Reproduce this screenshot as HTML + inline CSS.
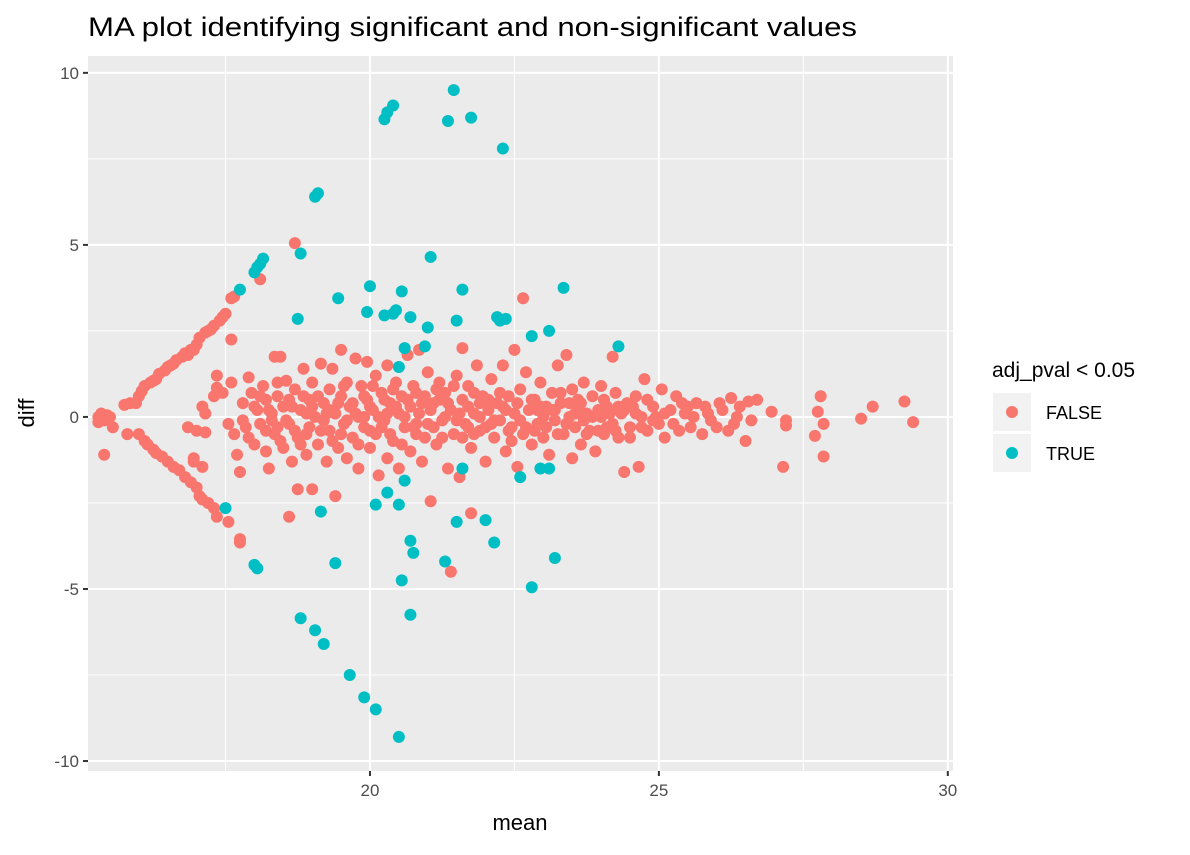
<!DOCTYPE html>
<html><head><meta charset="utf-8"><style>
body{margin:0;background:#fff;font-family:"Liberation Sans",sans-serif}
svg text{font-family:"Liberation Sans",sans-serif}
</style></head><body>
<svg id="chart" width="1190" height="850" viewBox="0 0 1190 850">
<text x="88" y="36" font-size="27" fill="#000" textLength="769" lengthAdjust="spacingAndGlyphs">MA plot identifying significant and non-significant values</text>
<rect x="88" y="56" width="865" height="715" fill="#ebebeb"/>
<g id="grid"></g>
<g id="pts"></g>
<g id="axes"></g>
<text x="520" y="830" font-size="22" text-anchor="middle">mean</text>
<text transform="translate(34,413) rotate(-90)" font-size="22" text-anchor="middle">diff</text>
<g>
<text x="992" y="377" font-size="21">adj_pval &lt; 0.05</text>
<rect x="993" y="393" width="38" height="38" fill="#f2f2f2"/>
<circle cx="1012" cy="412" r="6" fill="#F8766D"/>
<text x="1046" y="419" font-size="18">FALSE</text>
<rect x="993" y="434" width="38" height="38" fill="#f2f2f2"/>
<circle cx="1012" cy="453" r="6" fill="#00BFC4"/>
<text x="1046" y="460" font-size="18">TRUE</text>
</g>
</svg>
<script>
const xTicks=[20,25,30];
const xMinor=[17.5,22.5,27.5];
const yTicks=[-10,-5,0,5,10];
const yMinor=[-7.5,-2.5,2.5,7.5];
const trueMean=[17.5,17.75,18.0,18.05,18.1,18.15,18.0,18.05,18.75,18.8,18.8,19.05,19.1,19.05,19.2,19.15,19.4,19.45,19.65,19.9,20.0,19.95,20.1,20.1,20.25,20.3,20.4,20.25,20.3,20.4,20.45,20.5,20.55,20.6,20.55,20.5,20.6,20.7,20.7,20.75,20.7,20.95,21.0,21.05,21.3,21.35,21.45,21.5,21.5,21.6,21.75,21.6,22.0,22.15,22.2,22.25,22.3,22.35,22.6,22.8,22.8,22.95,23.1,23.1,23.2,23.35,24.3,20.5];
const trueDiff=[-2.65,3.7,4.2,4.35,4.45,4.6,-4.3,-4.4,2.85,4.75,-5.85,6.4,6.5,-6.2,-6.6,-2.75,-4.25,3.45,-7.5,-8.15,3.8,3.05,-2.55,-8.5,8.65,8.85,9.05,2.95,-2.2,3.0,3.1,-2.55,3.65,-1.85,-4.75,-9.3,2.0,2.9,-3.6,-3.95,-5.75,2.05,2.6,4.65,-4.2,8.6,9.5,-3.05,2.8,3.7,8.7,-1.5,-3.0,-3.65,2.9,2.8,7.8,2.85,-1.75,2.35,-4.95,-1.5,2.5,-1.5,-4.1,3.75,2.05,1.45];
const falsePoints=[
[15.85,0.4],[15.95,0.4],[16.05,0.75],[16.1,0.9],[16.2,1.0],[16.3,1.1],[16.35,1.25],[16.45,1.35],[16.5,1.45],[16.6,1.55],[16.65,1.65],[16.75,1.75],[16.8,1.85],[16.9,1.95],[17.0,2.1],[17.05,2.3],[17.15,2.45],[17.25,2.55],[17.3,2.65],[17.4,2.8],[17.45,2.9],[17.5,3.0],[16.95,1.95],[17.2,2.5],[16.85,1.8],[16.55,1.5],[16.25,1.05],[16.0,0.6],
[16.0,-0.5],[16.1,-0.7],[16.15,-0.8],[16.25,-0.95],[16.3,-1.05],[16.4,-1.15],[16.5,-1.3],[16.6,-1.45],[16.7,-1.55],[16.8,-1.75],[16.9,-1.9],[17.0,-2.05],[17.05,-2.3],[17.1,-2.4],[17.2,-2.5],[17.3,-2.65],[17.35,-2.9],[17.55,-3.05],[17.75,-3.55],[17.75,-3.65],[16.95,-1.3],[16.95,-1.2],[17.1,-1.45],[16.85,-0.3],[17.0,-0.4],[17.15,-0.45],
[15.3,0],[15.35,0.1],[15.4,-0.1],[15.3,-0.15],[15.45,0.05],[15.35,-0.05],[15.4,0.05],[15.5,0.0],[15.55,-0.3],[15.75,0.35],[15.8,-0.5],[15.4,-1.1],
[17.1,0.3],[17.15,0.1],[17.3,0.6],[17.35,1.2],[17.35,0.85],[17.45,0.7],[17.6,1.0],[17.65,-0.5],[17.7,-1.1],[17.75,-1.6],[17.9,1.15],[17.55,-0.2],
[18.7,5.05],[18.1,4.0],[17.6,3.45],[17.65,3.5],[17.6,2.25],[22.65,3.45],[21.4,-4.5],[21.75,-2.8],[18.6,-2.9],[27.15,-1.45],[27.85,-1.15],[28.5,-0.05],[28.7,0.3],[29.25,0.45],[29.4,-0.15],[27.8,0.6],[27.75,0.15],[27.7,-0.55],[27.85,-0.2],[27.2,-0.1],[27.2,-0.25],[26.95,0.15],[26.5,-0.7],[26.7,0.5],
[17.8,0.4],[17.85,-0.3],[17.95,0.7],[18.0,-0.8],[18.05,0.2],[18.1,-0.2],[18.15,0.9],[18.2,-1.0],[18.2,0.5],[18.25,-1.5],[18.3,0.1],[18.35,-0.5],[18.35,1.75],[18.45,1.75],[18.4,0.6],[18.5,-0.9],[18.5,0.3],[18.55,1.05],[18.6,-0.2],[18.65,-1.3],[18.7,0.8],[18.75,-2.1],[18.75,-0.6],[18.8,0.2],[18.85,1.4],[18.9,-1.1],[18.95,0.5],[18.95,-0.3],[19.0,1.0],[19.0,-2.1],[19.05,0.0],[19.1,-0.8],[19.15,1.55],[19.2,0.4],[19.25,-1.3],[19.3,0.8],[19.3,-0.4],[19.35,1.4],[19.4,0.1],[19.4,-2.3],[19.45,-0.9],[19.5,0.6],[19.5,1.95],[19.55,-0.2],[19.6,1.0],[19.6,-1.2],[19.65,0.3],[19.7,-0.6],[19.75,1.7],[19.8,0.0],[19.8,-1.5],[19.85,0.9],[19.9,-0.3],[19.95,0.5],[19.95,1.6],[20.0,-0.9],[20.05,0.2],[20.1,1.2],[20.1,-0.5],[20.15,-1.7],[20.2,0.7],[20.25,-0.1],[20.3,1.5],[20.3,-1.2],[20.35,0.4],[20.4,-0.7],[20.45,1.0],[20.5,0.1],[20.5,-1.5],[20.55,0.6],[20.6,-0.3],[20.65,1.8],[20.7,0.3],[20.7,-1.0],[20.75,0.9],[20.8,-0.5],[20.85,1.95],[20.85,0.1],[20.9,-1.3],[20.95,0.6],[21.0,-0.2],[21.0,1.3],[21.05,-2.45],[21.1,0.4],[21.15,-0.8],[21.2,1.0],[21.25,-0.1],[21.3,0.7],[21.35,-1.5],[21.4,0.2],[21.45,-0.5],[21.5,1.2],[21.55,-1.75],[21.6,0.5],[21.6,2.0],[21.65,-0.2],[21.7,0.9],[21.75,-0.9],[21.8,0.1],[21.85,1.5],[21.9,-0.4],[21.95,0.6],[22.0,-1.3],[22.05,0.2],[22.1,1.1],[22.15,-0.6],[22.2,0.4],[22.25,-0.1],[22.3,1.5],[22.35,-1.0],[22.4,0.6],[22.45,-0.3],[22.5,1.95],[22.5,0.1],[22.55,-1.45],[22.6,0.8],[22.65,-0.5],[22.7,1.3],[22.75,0.2],[22.8,-0.8],[22.85,0.5],[22.9,-0.2],[22.95,1.0],[23.0,-0.6],[23.05,0.3],[23.1,-1.1],[23.15,0.7],[23.2,-0.1],[23.25,1.5],[23.3,0.4],[23.35,-0.5],[23.4,1.8],[23.45,0.0],[23.5,-1.2],[23.5,0.8],[23.55,-0.3],[23.6,0.5],[23.65,-0.8],[23.7,1.0],[23.75,0.1],[23.8,-0.4],[23.85,0.6],[23.9,-1.0],[23.95,0.2],[24.0,0.9],[24.05,-0.5],[24.1,0.3],[24.2,1.75],[24.2,-0.2],[24.25,0.7],[24.3,-0.6],[24.35,0.1],[24.4,-1.6],[24.45,0.4],[24.5,-0.3],[24.6,0.6],[24.65,-1.45],[24.7,0.0],[24.75,1.1],[24.8,-0.4],[24.9,0.3],[25.0,-0.2],[25.05,0.8],[25.1,-0.6],[25.2,0.2],[25.3,0.6],[25.35,-0.4],[25.45,0.1],[25.55,-0.3],[25.65,0.4],[25.75,-0.5],[25.85,0.1],[26.0,-0.3],[26.1,0.2],[26.25,0.55],[26.3,-0.2],[26.4,0.3],[26.55,0.45],[26.6,-0.1],
[18.3,-0.1],[18.6,0.5],[18.9,0.1],[19.2,-0.1],[19.5,-0.5],[19.7,0.4],[20.0,0.3],[20.2,-0.3],[20.4,0.8],[20.6,0.0],[20.9,0.4],[21.1,-0.3],[21.3,0.0],[21.5,-0.1],[21.7,0.3],[21.9,0.0],[22.1,-0.2],[22.3,0.3],[22.6,-0.1],[22.9,0.2],[23.2,0.2],[23.4,-0.2],[23.7,-0.1],[24.0,0.0],[24.3,0.3],[24.6,0.1],[18.4,-0.3],[18.8,-0.8],[19.3,0.2],[19.9,0.0],[20.3,0.1],[20.8,-0.2],[21.2,0.5],[21.8,-0.5],[22.4,-0.4],[23.0,0.0],[23.6,0.2],[24.1,-0.3],[24.9,-0.1],[25.5,0.3],[25.9,-0.1],[26.2,-0.4],
[17.8,-0.1],[17.9,-0.6],[18.0,0.3],[18.1,0.6],[18.2,-0.4],[18.25,0.2],[18.4,1.0],[18.45,-0.7],[18.55,-0.1],[18.65,0.3],[18.7,-0.4],[18.85,0.6],[18.9,-0.5],[19.0,0.3],[19.1,0.6],[19.15,-0.4],[19.25,0.1],[19.35,-0.7],[19.45,0.4],[19.55,0.9],[19.6,-0.1],[19.75,0.1],[19.8,-0.8],[19.9,0.6],[20.0,-0.4],[20.05,0.9],[20.15,0.0],[20.25,0.5],[20.35,-0.5],[20.45,0.3],[20.55,-0.8],[20.65,0.5],[20.75,-0.3],[20.8,0.7],[20.95,-0.6],[21.05,0.2],[21.15,0.8],[21.25,-0.6],[21.35,0.4],[21.45,0.9],[21.55,0.1],[21.6,-0.6],[21.7,-0.3],[21.8,0.7],[21.9,0.4],[22.0,-0.3],[22.05,0.5],[22.15,-0.1],[22.25,0.7],[22.35,0.2],[22.45,-0.7],[22.55,0.4],[22.7,-0.3],[22.8,0.5],[22.85,-0.4],[22.95,0.3],[23.05,-0.3],[23.15,0.2],[23.25,-0.5],[23.3,0.7],[23.45,0.4],[23.55,0.1],[23.65,0.4],[23.75,-0.5],[23.85,0.0],[23.95,-0.4],[24.05,0.5],[24.15,0.1],[24.25,-0.4],[24.4,0.2],[24.5,-0.6],[24.55,0.3],[24.7,-0.3],[24.8,0.5],[24.95,0.0],[25.1,0.1],[25.25,-0.2],[25.4,0.4],[25.6,0.0],[25.8,0.3],[26.05,0.4],[26.35,0.0]
];
const NS="http://www.w3.org/2000/svg";
const X0=88,X1=953,Y0=56,Y1=771,xmin=15.12,xmax=30.09,ymin=-10.29,ymax=10.49;
function sx(v){return X0+(v-xmin)/(xmax-xmin)*(X1-X0);}
function sy(v){return Y1-(v-ymin)/(ymax-ymin)*(Y1-Y0);}
function mk(t,a,p){const e=document.createElementNS(NS,t);for(const k in a)e.setAttribute(k,a[k]);p.appendChild(e);return e;}
const grid=document.getElementById('grid'),axes=document.getElementById('axes'),pts=document.getElementById('pts');
xMinor.forEach(v=>{const l=mk('line',{x1:sx(v),x2:sx(v),y1:Y0,y2:Y1,stroke:'#fff','stroke-width':1},grid);

});
yMinor.forEach(v=>{const l=mk('line',{x1:X0,x2:X1,y1:sy(v),y2:sy(v),stroke:'#fff','stroke-width':1},grid);

});
xTicks.forEach(v=>{const l=mk('line',{x1:sx(v),x2:sx(v),y1:Y0,y2:Y1,stroke:'#fff','stroke-width':2},grid);


const t=mk('line',{x1:sx(v),x2:sx(v),y1:Y1,y2:Y1+5,stroke:'#333','stroke-width':2},axes);


const tx=mk('text',{x:sx(v),y:Y1+25,'font-size':17,'text-anchor':'middle',fill:'#4d4d4d'},axes);tx.textContent=v;

});
yTicks.forEach(v=>{const l=mk('line',{x1:X0,x2:X1,y1:sy(v),y2:sy(v),stroke:'#fff','stroke-width':2},grid);


const t=mk('line',{x1:X0-5,x2:X0,y1:sy(v),y2:sy(v),stroke:'#333','stroke-width':2},axes);


const tx=mk('text',{x:X0-9,y:sy(v)+6,'font-size':17,'text-anchor':'end',fill:'#4d4d4d'},axes);tx.textContent=v;

});
falsePoints.forEach(p=>{const c=mk('circle',{cx:sx(p[0]),cy:sy(p[1]),r:6,fill:'#F8766D'},pts);

});
trueMean.forEach((m,i)=>{const c=mk('circle',{cx:sx(m),cy:sy(trueDiff[i]),r:6,fill:'#00BFC4'},pts);

});
</script>
</body></html>
